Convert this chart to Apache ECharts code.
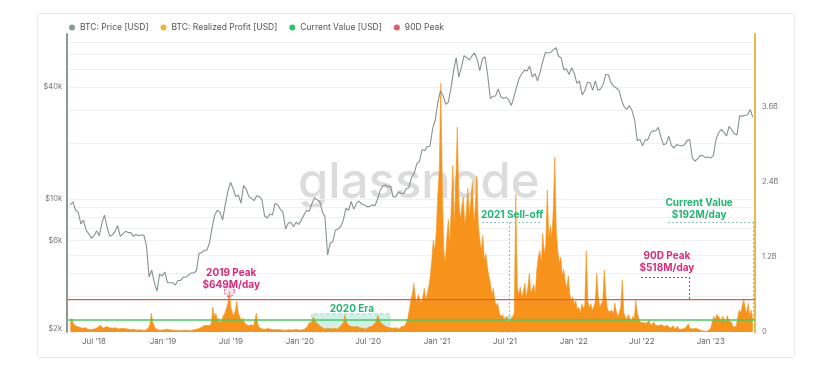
<!DOCTYPE html>
<html><head><meta charset="utf-8">
<script src="https://cdn.jsdelivr.net/npm/echarts@6/dist/echarts.min.js"></script>
<style>html,body{margin:0;padding:0;background:#fff}#c{width:832px;height:370px}</style>
</head><body><div id="c"></div>
<script>
const DAY = 86400000;
// weekly BTC price (USD), first point 2018-04-29
const priceStart = [2018, 3, 29];
const priceUSD = [
 9300, 9650, 8700, 8500, 7350, 7700, 6800, 6500, 6150, 6350, 6750, 6350, 7400, 8200, 7050, 6300, 6400, 6700,
 7200, 6300, 6500, 6700, 6600, 6600, 6300, 6450, 6350, 6400, 6400, 5600, 3800, 4150, 3550, 3200, 3950, 3850,
 4050, 3550, 3550, 3550, 3450, 3650, 3650, 3800, 3800, 3900, 4000, 4000, 4100, 5100, 5150, 5300, 5300,
 5800, 7000, 8200, 8700, 8500, 7700, 9300, 11000, 12300, 11400, 10300, 10500, 9500, 11800, 11300, 10300, 10100,
 9800, 10400, 10300, 9900, 8100, 7900, 8300, 8200, 9500, 9300, 8800, 8500, 6900, 7400, 7500, 7100, 7500, 7300,
 7700, 8200, 8700, 8600, 9400, 10150, 9900, 9700, 8550, 8000, 5000, 5800, 5900, 6800, 6900, 7100, 7700,
 8900, 8700, 9700, 8800, 9500, 9750, 9400, 9300, 9100, 9100, 9300, 9200, 9900, 11100, 11700, 11900, 11650, 11700,
 10250, 10300, 10900, 10750, 10700, 11400, 11500, 13100, 13750, 15500, 15950, 18400, 18200, 19150, 19200, 23800, 26500,
 33000, 38200, 36000, 32300, 33100, 39300, 48700, 57500, 45200, 51200, 59000, 57500, 55900, 58700, 61000, 56200, 49000,
 56600, 58200, 46400, 34700, 35700, 35800, 39100, 35500, 34700, 35300, 34200, 31800, 35400, 39900, 44600, 47000, 49300, 48800,
 51800, 45200, 47300, 43200, 48200, 55000, 61500, 61000, 61300, 63300, 65000, 58700, 57300, 49400, 50100, 46700, 50800,
 47300, 41800, 43100, 36300, 38200, 42400, 42200, 38400, 43200, 38400, 39000, 41300, 46800, 46400, 42200, 40400, 39500,
 38500, 34100, 31300, 30300, 31800, 29900, 26600, 20500, 21000, 19300, 20800, 20800, 22600, 23300, 23200, 24300, 21500, 19600,
 19800, 21800, 19400, 18800, 19600, 19400, 19300, 19600, 20600, 20900, 16600, 16000, 16450, 17100, 17100, 16700, 16800,
 16600, 17100, 20900, 22700, 23700, 22900, 21800, 24600, 23500, 22400, 22100, 28000, 27900, 28200, 28300, 30300, 27600
];
// realized profit (million USD/day), one value every 4 days, first point 2018-04-29
const profitStart = [2018, 3, 29];
const realizedProfitM = [
 150, 220, 130, 110, 90, 120, 80, 70,
 60, 50, 70, 45, 40, 55, 40, 35,
 50, 45, 70, 90, 110, 80, 60, 50,
 90, 110, 70, 50, 60, 45, 70, 60,
 50, 80, 60, 45, 55, 40, 50, 45,
 40, 35, 45, 40, 30, 45, 35, 40,
 30, 40, 25, 35, 60, 120, 300, 150,
 90, 50, 40, 30, 25, 30, 40, 35,
 30, 45, 35, 30, 25, 30, 28, 25,
 25, 20, 30, 25, 20, 30, 25, 20,
 20, 25, 30, 40, 35, 50, 60, 70,
 80, 100, 90, 110, 80, 100, 150, 400,
 250, 300, 180, 220, 140, 200, 260, 300,
 380, 450, 649, 400, 300, 260, 350, 485,
 300, 240, 180, 220, 160, 120, 150, 100,
 90, 120, 80, 100, 300, 120, 70, 60,
 50, 60, 45, 40, 55, 35, 40, 30,
 35, 60, 40, 30, 35, 45, 30, 25,
 30, 25, 35, 20, 30, 25, 40, 30,
 35, 40, 30, 50, 45, 70, 90, 140,
 120, 160, 240, 200, 150, 180, 110, 90,
 70, 60, 50, 45, 60, 40, 50, 55,
 60, 70, 50, 80, 90, 100, 150, 270,
 180, 120, 100, 90, 110, 80, 70, 90,
 80, 70, 90, 60, 70, 50, 60, 80,
 70, 90, 110, 140, 180, 270, 200, 150,
 130, 110, 90, 80, 60, 70, 50, 60,
 50, 70, 60, 50, 80, 90, 70, 100,
 150, 220, 350, 500, 600, 780, 550, 480,
 600, 520, 460, 560, 700, 500, 620, 720,
 900, 1150, 1470, 1300, 1600, 2200, 2600, 3980,
 2300, 1300, 1100, 1500, 1800, 1400, 2000, 2670,
 1700, 2400, 3280, 2100, 1800, 2000, 2160, 1700,
 1900, 2300, 1850, 2100, 2400, 1750, 2000, 2500,
 1700, 1470, 1300, 1550, 1150, 1250, 1050, 900,
 780, 600, 700, 500, 420, 460, 300, 240,
 280, 200, 180, 240, 160, 140, 200, 170,
 300, 2200, 700, 600, 720, 550, 650, 780,
 560, 700, 940, 620, 680, 760, 600, 990,
 1200, 1300, 1100, 1580, 1250, 1400, 2270, 1500,
 1700, 1500, 1950, 2800, 1600, 1300, 1100, 1200,
 900, 1000, 800, 700, 900, 600, 500, 560,
 450, 500, 350, 400, 300, 450, 380, 420,
 1300, 500, 380, 450, 350, 400, 480, 940,
 560, 400, 450, 500, 990, 600, 380, 320,
 300, 350, 280, 460, 330, 250, 300, 400,
 830, 300, 250, 200, 280, 220, 180, 250,
 200, 510, 300, 220, 160, 180, 150, 170,
 140, 120, 190, 100, 130, 160, 110, 90,
 100, 80, 120, 140, 90, 70, 110, 80,
 60, 80, 100, 50, 70, 90, 40, 60,
 50, 70, 60, 80, 130, 60, 40, 50,
 40, 60, 30, 40, 25, 20, 15, 12,
 10, 15, 20, 60, 160, 250, 200, 280,
 300, 220, 180, 250, 200, 160, 260, 190,
 180, 150, 80, 70, 90, 240, 350, 300,
 420, 518, 380, 300, 460, 250, 350, 192
];
const currentValueM = 192;
const peak90dM = 518;
const peak2019M = 649;
const xTickMonths = [[2018,6],[2019,0],[2019,6],[2020,0],[2020,6],[2021,0],[2021,6],[2022,0],[2022,6],[2023,0]];
const leftLabels = [2000, 6000, 10000, 40000];
const leftGridValues = [2000,3000,4000,5000,6000,7000,8000,9000,10000,20000,30000,40000,50000,60000,70000];
const rightLabels = [0, 1.2e9, 2.4e9, 3.6e9];

const U = (y,m,d) => Date.UTC(y,m,d);
const xMin = U(2018,3,20), xMax = U(2023,3,29);
const p0 = U(...priceStart), r0 = U(...profitStart);
const priceData = priceUSD.map((v,i) => [p0 + i*7*DAY, v]);
const profitData = realizedProfitM.map((v,i) => [r0 + i*4*DAY, v*1e6]);
const peakIdx = realizedProfitM.indexOf(peak2019M);
const peakDate = r0 + peakIdx*4*DAY;
const MON = ['Jan','Feb','Mar','Apr','May','Jun','Jul','Aug','Sep','Oct','Nov','Dec'];
const xTicks = xTickMonths.map(([y,m]) => U(y,m,1));

const PINK = '#e0287a', GREEN = '#22b573', FONT = 'Inter, Lato, sans-serif';
const note = (coord, text, color) => ({
  coord, symbol: 'circle', symbolSize: 1, itemStyle: {color: 'rgba(0,0,0,0)'},
  label: {show: true, position: 'inside', formatter: text, color, fontSize: 10, fontWeight: 700, lineHeight: 12, fontFamily: FONT}
});
const seg = (a, b, color) => [{coord: a, lineStyle: {color, type: [2,2], width: 1}}, {coord: b}];

const chart = echarts.init(document.getElementById('c'), null, {renderer: 'canvas'});
chart.setOption({
  animation: false,
  backgroundColor: '#fff',
  textStyle: {fontFamily: FONT},
  graphic: [
    {type: 'rect', z: -5, shape: {x: 37.5, y: 13.5, width: 757, height: 344, r: 3}, style: {fill: 'none', stroke: '#e8e8e8', lineWidth: 1}},
    {type: 'text', z: 0, left: 298, top: 159, style: {text: 'glassnode', fontSize: 49, fontFamily: FONT, fontWeight: 500, fill: '#dcdcdc'}}
  ],
  legend: {
    data: ['BTC: Price [USD]', 'BTC: Realized Profit [USD]', 'Current Value [USD]', '90D Peak'],
    left: 64, top: 18, icon: 'circle', itemWidth: 6, itemHeight: 6, itemGap: 12,
    textStyle: {fontSize: 8.5, color: '#555', fontFamily: FONT}
  },
  grid: {left: 67, right: 77, top: 34, bottom: 38},
  xAxis: {
    type: 'value', min: xMin, max: xMax,
    axisLine: {show: false}, axisTick: {show: false, customValues: xTicks},
    splitLine: {show: false},
    axisLabel: {customValues: xTicks, color: '#666', fontSize: 8, margin: 6,
      formatter: v => { const d = new Date(v); return MON[d.getUTCMonth()] + " '" + String(d.getUTCFullYear()).slice(2); }}
  },
  yAxis: [
    {type: 'log', min: 1928, max: 77100, position: 'left',
     axisLine: {show: true, lineStyle: {color: '#8e9996', width: 2}},
     axisTick: {show: false, customValues: leftGridValues},
     splitLine: {show: true, lineStyle: {color: '#f1f1f1', width: 1}},
     axisLabel: {customValues: leftLabels, color: '#777', fontSize: 7.5, margin: 5, formatter: v => '$' + (v/1000) + 'k'}},
    {type: 'value', min: 0, max: 4.77e9, position: 'right',
     axisLine: {show: true, lineStyle: {color: '#e9b949', width: 2}},
     axisTick: {show: false, customValues: rightLabels},
     splitLine: {show: false},
     axisLabel: {customValues: rightLabels, color: '#777', fontSize: 7.5, margin: 7, formatter: v => v === 0 ? '0' : (v/1e9).toFixed(1) + 'B'}}
  ],
  series: [
    {name: 'BTC: Realized Profit [USD]', type: 'line', yAxisIndex: 1, data: profitData, showSymbol: false,
     itemStyle: {color: '#e9b440'}, lineStyle: {color: '#f7931a', width: 0.6}, areaStyle: {color: '#f7931a', opacity: 1}, z: 2},
    {name: 'BTC: Price [USD]', type: 'line', yAxisIndex: 0, data: priceData, showSymbol: false,
     itemStyle: {color: '#8b9895'}, lineStyle: {color: '#86938f', width: 1.1}, z: 4},
    {name: 'Current Value [USD]', type: 'line', yAxisIndex: 1, data: [[xMin, currentValueM*1e6], [xMax, currentValueM*1e6]], showSymbol: false,
     itemStyle: {color: '#2fc16b'}, lineStyle: {color: '#3fcf5f', width: 1.5}, z: 5,
     markArea: {silent: true, data: [
       [{coord: [U(2020,1,2), 0], itemStyle: {color: 'rgba(150,225,205,0.45)', borderColor: '#a8dcc4', borderWidth: 1, borderType: 'dashed'}}, {coord: [U(2020,7,28), 290e6]}],
       [{coord: [U(2021,5,18), 0], itemStyle: {color: 'rgba(120,190,140,0.45)', borderColor: '#a8dcc4', borderWidth: 1, borderType: 'dashed'}}, {coord: [U(2021,7,7), 245e6]}]
     ]},
     markLine: {silent: true, symbol: ['none','none'], label: {show: false}, data: [
       seg([U(2021,4,1), 1.76e9], [U(2021,9,8), 1.76e9], '#8fc7b2'),
       seg([U(2021,6,13), 1.76e9], [U(2021,6,13), 0.256e9], '#8fc7b2'),
       seg([U(2022,8,9), 1.76e9], [U(2023,3,24), 1.76e9], '#8fc7b2'),
       seg([U(2023,3,24), 1.76e9], [U(2023,3,24), currentValueM*1e6], '#8fc7b2'),
       seg([U(2022,5,29), 0.88e9], [U(2022,10,4), 0.88e9], PINK),
       seg([U(2022,10,4), 0.88e9], [U(2022,10,4), peak90dM*1e6], PINK)
     ]},
     markPoint: {silent: true, data: [
       note([U(2020,4,19), 0.368e9], '2020 Era', GREEN),
       note([U(2021,6,20), 1.87e9], '2021 Sell-off', GREEN),
       note([U(2022,11,1), 1.968e9], 'Current Value\n$192M/day', GREEN),
       note([U(2022,8,6), 1.128e9], '90D Peak\n$518M/day', PINK),
       note([U(2019,6,2), 0.848e9], '2019 Peak\n$649M/day', PINK),
       {coord: [peakDate, peak2019M*1e6], symbol: 'circle', symbolSize: 10,
        itemStyle: {color: 'rgba(224,40,122,0.12)', borderColor: PINK, borderWidth: 1, borderType: [2,2]}, label: {show: false}}
     ]}},
    {name: '90D Peak', type: 'line', yAxisIndex: 1, data: [[xMin, peak90dM*1e6], [xMax, peak90dM*1e6]], showSymbol: false,
     itemStyle: {color: '#e35d6a'}, lineStyle: {color: '#dc5a5e', width: 1.2}, z: 5}
  ]
});
</script></body></html>
